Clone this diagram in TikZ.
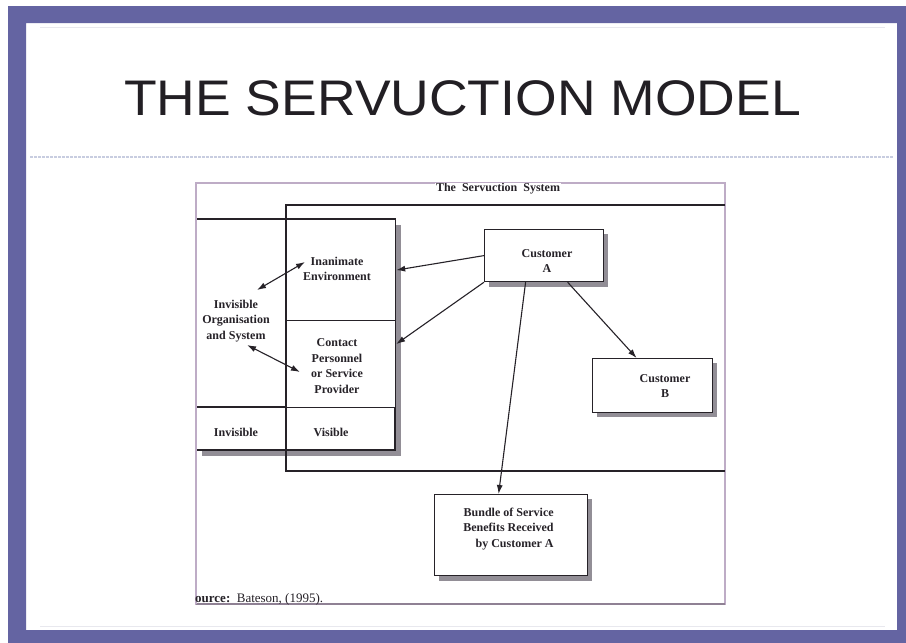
\documentclass[tikz,border=0pt]{standalone}
\usepackage{fontspec}
\setmainfont{Liberation Serif}
\newfontfamily\headfont{Liberation Sans}
\usepackage{graphicx}
\usetikzlibrary{arrows.meta,calc}

\definecolor{frameblue}{RGB}{100,100,162}
\definecolor{panelline}{RGB}{190,172,198}
\definecolor{ink}{RGB}{38,34,40}
\definecolor{shadowgray}{RGB}{146,142,150}
\definecolor{rulecol}{RGB}{200,205,224}
\definecolor{faint}{RGB}{232,232,238}

\begin{document}
\begin{tikzpicture}[x=1pt,y=-1pt,
  ln/.style={draw=ink, line width=1.2pt},
  box/.style={ln, fill=white, rectangle, inner sep=0pt, anchor=north west},
  lbl/.style={font=\fontsize{12}{15.5}\selectfont\bfseries, text=ink, align=center, inner sep=0pt},
  arr/.style={draw=ink, line width=1.1pt, -{Latex[length=9pt,width=6pt]}},
  darr/.style={draw=ink, line width=1.1pt, {Latex[length=9pt,width=6pt]}-{Latex[length=9pt,width=6pt]}}
]
\useasboundingbox (0,0) rectangle (906,643);

% slide background and frame
\fill[white] (0,0) rectangle (906,643);
\fill[frameblue, even odd rule] (8,6) rectangle (906,643) (26,23) rectangle (897,630);
\draw[faint, line width=1pt] (40,27) -- (885,27);
\draw[faint, line width=1pt] (40,626) -- (885,626);

% slide heading
\node[anchor=base, inner sep=0pt, text=ink!90!black,
      font=\headfont\fontsize{50}{60}\selectfont] (heading) at (462.5,115)
      {\scalebox{1.07}[1]{THE SERVUCTION MODEL}};
\draw[rulecol, line width=2.5pt, dash pattern=on 3pt off 1pt] (30,157) -- (893,157);

% figure panel
\draw[panelline, line width=1.6pt] (196,183) rectangle (725,604);
\draw[panelline!75!black, line width=1.2pt] (196,604) -- (725,604);
\begin{scope}
  \clip (0,183) rectangle (906,643);
  \node[anchor=base, fill=white, inner sep=1pt, text=ink,
        font=\fontsize{12}{14}\selectfont\bfseries] (systitle) at (498,191)
        {The\ \ Servuction\ \ System};
\end{scope}

% visible part of the system
\draw[ln] (725,205) -- (286,205) -- (286,471) -- (725,471);

% drop shadows
\fill[shadowgray] (202,225) rectangle (401,456);
\fill[shadowgray] (489,234) rectangle (608,287);
\fill[shadowgray] (597,363) rectangle (717,417);
\fill[shadowgray] (439,499) rectangle (592,581);

% left block: invisible / visible areas
\fill[white] (196,219) rectangle (395,450);
\draw[ln] (196,219) -- (395,219) -- (395,450) -- (196,450);
\draw[ln] (196,407) -- (395,407);
\draw[ln] (286,205) -- (286,471);
\node[box, minimum width=109pt, minimum height=101pt] (inan) at (286,219) {};
\node[box, minimum width=109pt, minimum height=87pt] (contact) at (286,320) {};

% customers and outcome
\node[box, minimum width=119pt, minimum height=52pt] (custA) at (484,229) {};
\node[box, minimum width=120pt, minimum height=54pt] (custB) at (592,358) {};
\node[box, minimum width=153pt, minimum height=81pt] (bundle) at (434,494) {};

% panel left edge over the block
\draw[panelline, line width=1.6pt] (196,183) -- (196,604);

% labels
\node[lbl] (inanT) at (337,269) {Inanimate\\Environment};
\node[lbl] (invT) at (236,321) {Invisible\\Organisation\\and System};
\node[lbl] (contactT) at (337,366) {Contact\\Personnel\\or Service\\Provider};
\node[lbl] (invisT) at (236,432) {Invisible};
\node[lbl] (visT) at (331,432) {Visible};
\node[lbl] (custAT) at (547,261) {Customer\\A};
\node[lbl] (custBT) at (665,386) {Customer\\B};
\node[lbl, align=right] (bundleT) at (508.5,529) {Bundle of Service\\Benefits Received\\by Customer A};

% connectors
\draw[arr] (custA.west) -- (inan.east);
\draw[arr] (custA.south west) -- ([yshift=20pt]contact.east);
\draw[arr] ([xshift=-18.5pt]custA.south) -- ([xshift=-12.5pt]bundle.north);
\draw[arr] ([xshift=23.5pt]custA.south) -- ([xshift=-16pt]custB.north);

\coordinate (orgUp) at (257,290);
\coordinate (inanEnd) at (305,262);
\coordinate (orgDown) at (247,345);
\coordinate (contactEnd) at (300,372);
\draw[darr] (orgUp) -- (inanEnd);
\draw[darr] (orgDown) -- (contactEnd);

% source line
\node[anchor=base west, inner sep=0pt, text=ink, font=\fontsize{13}{15}\selectfont]
  (source) at (195,602) {\textbf{ource:}\ \ Bateson, (1995).};
\end{tikzpicture}
\end{document}
